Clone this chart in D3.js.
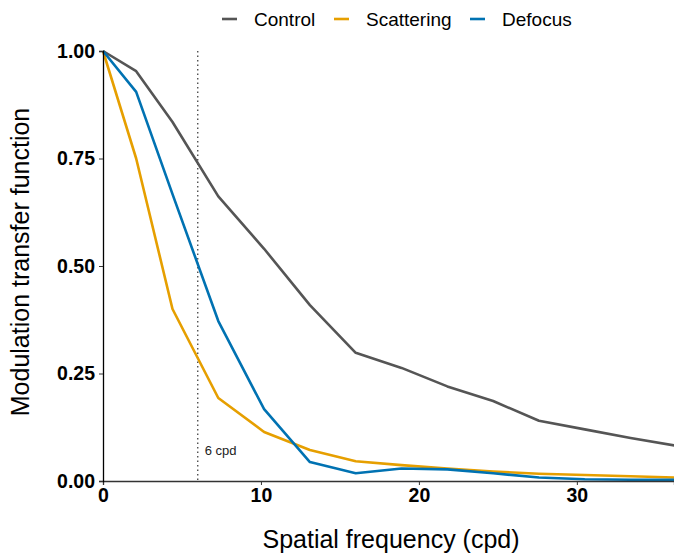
<!DOCTYPE html>
<html>
<head>
<meta charset="utf-8">
<script src="https://cdn.jsdelivr.net/npm/d3@7"></script>
<style>
  body { margin: 0; background: #fff; }
  text { font-family: "Liberation Sans", Arial, sans-serif; }
</style>
</head>
<body>
<div id="chart"></div>
<script>
var svgWidth = 674;
var svgHeight = 556;

var margin = { top: 51, right: 0, bottom: 75, left: 103 };
var width = svgWidth - margin.left - margin.right;
var height = svgHeight - margin.top - margin.bottom;

// data
var freq = [0, 2.1, 4.4, 7.3, 10.2, 13.1, 16, 18.9, 21.8, 24.7, 27.6, 30.5, 33.4, 36.3];
var control = [1.00, 0.953, 0.835, 0.662, 0.540, 0.409, 0.298, 0.263, 0.220, 0.186, 0.140, 0.120, 0.100, 0.082];
var scattering = [1.00, 0.750, 0.400, 0.193, 0.114, 0.072, 0.046, 0.037, 0.029, 0.022, 0.017, 0.014, 0.011, 0.008];
var defocus = [1.00, 0.905, 0.667, 0.372, 0.167, 0.044, 0.018, 0.029, 0.027, 0.018, 0.008, 0.004, 0.003, 0.003];

var seriesNames = ["Control", "Scattering", "Defocus"];
var seriesColors = ["#555555", "#E69F00", "#0072B2"];
var yTicks = [0, 0.25, 0.5, 0.75, 1];
var xTicks = [0, 10, 20, 30];
var cutoff = 6;

var svg = d3.select("#chart")
  .append("svg")
  .attr("width", svgWidth)
  .attr("height", svgHeight);

var chartGroup = svg.append("g")
  .attr("transform", `translate(${margin.left}, ${margin.top})`);

var xScale = d3.scaleLinear().domain([0, 36.15]).range([0, width]);
var yScale = d3.scaleLinear().domain([0, 1]).range([height, 0]);

chartGroup.append("clipPath").attr("id", "clip")
  .append("rect").attr("x", -5).attr("y", -5).attr("width", width + 5).attr("height", height + 10);

// dotted reference line
chartGroup.append("line")
  .attr("x1", xScale(cutoff)).attr("x2", xScale(cutoff))
  .attr("y1", 0).attr("y2", height)
  .attr("stroke", "#333").attr("stroke-width", 1.2)
  .attr("stroke-dasharray", "1.5,3");

chartGroup.append("text")
  .attr("x", xScale(cutoff) + 7)
  .attr("y", yScale(0.07))
  .attr("dy", "0.35em")
  .style("font-size", "13px")
  .attr("fill", "#222")
  .text("6 cpd");

// lines
var allSeries = [control, scattering, defocus];
var line = d3.line()
  .x((d, i) => xScale(freq[i]))
  .y(d => yScale(d));

chartGroup.append("g").attr("clip-path", "url(#clip)")
  .selectAll("path")
  .data(allSeries)
  .enter()
  .append("path")
  .attr("d", d => line(d))
  .attr("fill", "none")
  .attr("stroke", (d, i) => seriesColors[i])
  .attr("stroke-width", 2.6)
  .attr("stroke-linejoin", "round");

// axes
var bottomAxis = d3.axisBottom(xScale).tickValues(xTicks).tickSize(4).tickPadding(3);
var leftAxis = d3.axisLeft(yScale).tickValues(yTicks).tickFormat(d3.format(".2f")).tickSize(4).tickPadding(4);

var xAxis = chartGroup.append("g")
  .attr("transform", `translate(0, ${height})`)
  .call(bottomAxis);
xAxis.select(".domain").attr("stroke", "#333").attr("stroke-width", 1.3);

var yAxis = chartGroup.append("g").call(leftAxis);
yAxis.select(".domain").attr("stroke", "#000").attr("stroke-width", 1.3);

chartGroup.selectAll(".tick text")
  .style("font-size", "19.5px")
  .style("font-weight", "bold")
  .style("font-family", "'Liberation Sans', Arial, sans-serif")
  .attr("fill", "#000");
chartGroup.selectAll(".tick line").attr("stroke", "#333");

// axis titles
svg.append("text")
  .attr("x", 391)
  .attr("y", 548)
  .attr("text-anchor", "middle")
  .style("font-size", "25px")
  .text("Spatial frequency (cpd)");

svg.append("text")
  .attr("transform", "rotate(-90)")
  .attr("x", -262)
  .attr("y", 29)
  .attr("text-anchor", "middle")
  .style("font-size", "25px")
  .text("Modulation transfer function");

// legend
var legendX = [222, 334, 470];
var legend = svg.append("g");
seriesNames.forEach(function(name, i) {
  legend.append("line")
    .attr("x1", legendX[i]).attr("x2", legendX[i] + 15)
    .attr("y1", 19).attr("y2", 19)
    .attr("stroke", seriesColors[i]).attr("stroke-width", 2.6);
  legend.append("text")
    .attr("x", legendX[i] + 32)
    .attr("y", 19)
    .attr("dy", "0.35em")
    .style("font-size", "19px")
    .text(name);
});
</script>
</body>
</html>
